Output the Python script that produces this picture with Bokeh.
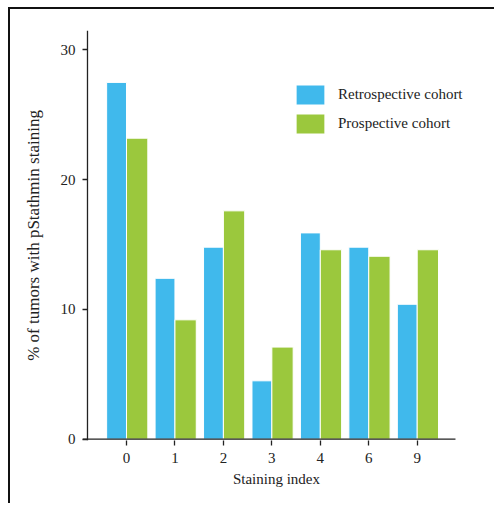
from bokeh.plotting import figure
from bokeh.models import ColumnDataSource, FixedTicker, Span, Legend, LegendItem
from bokeh.transform import dodge
from bokeh.embed import file_html
from bokeh.resources import INLINE

categories = ["0", "1", "2", "3", "4", "6", "9"]
retrospective = [27.5, 12.4, 14.8, 4.5, 15.9, 14.8, 10.4]
prospective = [23.2, 9.2, 17.6, 7.1, 14.6, 14.1, 14.6]
y_ticks = [0, 10, 20, 30]

positions = list(range(len(categories)))
src = ColumnDataSource(dict(x=positions, retro=retrospective, pro=prospective))

FONT = "Liberation Serif"
BLUE = "#40B9EC"
GREEN = "#9BC83D"
X_LEFT, X_AXIS_END = -0.908, 6.79

p = figure(width=486, height=496, output_backend="svg", toolbar_location=None,
           x_range=(X_LEFT, 7.10), y_range=(-0.1, 31.5),
           min_border_left=72, min_border_right=26, min_border_top=21,
           min_border_bottom=65)
p.styles = {"margin-left": "10px", "margin-top": "9px",
            "box-shadow": "-2px -2px 0 #111"}
p.outline_line_color = None
p.xgrid.grid_line_color = None
p.ygrid.grid_line_color = None
p.background_fill_color = "white"

r1 = p.vbar(x=dodge("x", -0.205, range=p.x_range), top="retro", width=0.41, bottom=0,
            source=src, fill_color=BLUE, line_color="white", line_width=1)
r2 = p.vbar(x=dodge("x", 0.22, range=p.x_range), top="pro", width=0.44, bottom=0,
            source=src, fill_color=GREEN, line_color="white", line_width=1)

# baseline (x axis line)
p.segment(x0=[X_LEFT], x1=[X_AXIS_END], y0=[0], y1=[0], line_color="#222", line_width=1.3)

# x axis
xa = p.xaxis[0]
xa.ticker = FixedTicker(ticks=positions)
xa.major_label_overrides = {i: c for i, c in zip(positions, categories)}
xa.minor_tick_line_color = None
xa.axis_line_color = None
xa.major_tick_in = 0
xa.major_tick_out = 5
xa.major_tick_line_color = "#222"
xa.major_tick_line_width = 1.3
xa.major_label_text_font = FONT
xa.major_label_text_font_size = "15px"
xa.major_label_text_color = "#222"
xa.major_label_standoff = 7
xa.axis_label = "Staining index"
xa.axis_label_text_font = FONT
xa.axis_label_text_font_size = "15px"
xa.axis_label_text_font_style = "normal"
xa.axis_label_text_color = "#222"
xa.axis_label_standoff = 5

# y axis
ya = p.yaxis[0]
ya.ticker = FixedTicker(ticks=y_ticks)
ya.minor_tick_line_color = None
ya.axis_line_color = None
ya.major_tick_in = 5
ya.major_tick_out = 0
ya.major_tick_line_color = "#222"
ya.major_tick_line_width = 1.3
ya.major_label_text_font = FONT
ya.major_label_text_font_size = "15px"
ya.major_label_text_color = "#222"
ya.major_label_standoff = 7
ya.axis_label = "% of tumors with pStathmin staining"
ya.axis_label_text_font = FONT
ya.axis_label_text_font_size = "17px"
ya.axis_label_text_font_style = "normal"
ya.axis_label_text_color = "#222"
ya.axis_label_standoff = 15

p.add_layout(Span(location=-0.805, dimension="height", line_color="#222", line_width=1.3))

legend = Legend(items=[LegendItem(label="Retrospective cohort", renderers=[r1]),
                       LegendItem(label="Prospective cohort", renderers=[r2])],
                location=(210, 304), glyph_width=36, glyph_height=25, spacing=4,
                label_standoff=10, padding=0, margin=0, border_line_color=None,
                background_fill_alpha=0, label_text_font=FONT,
                label_text_font_size="15px", label_text_color="#222")
p.add_layout(legend)

open("out.html", "w").write(file_html(p, INLINE))
